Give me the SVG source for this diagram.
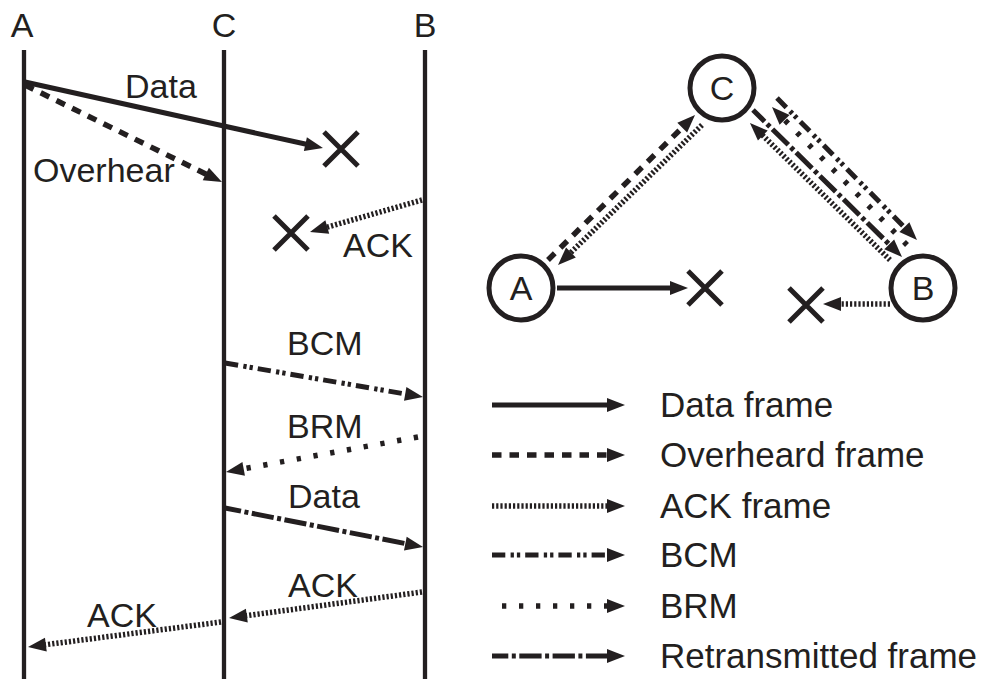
<svg xmlns="http://www.w3.org/2000/svg" width="984" height="679" viewBox="0 0 984 679">
  <style>
    text { font-family: "Liberation Sans", Arial, sans-serif; font-size: 34px; fill: #231f20; }
    .legend text { font-size: 35px; }
    .life { stroke: #231f20; stroke-width: 4.3; fill: none; }
    .f { stroke: #231f20; stroke-width: 5; fill: none; marker-end: url(#head); }
    .over { stroke-width: 5.5; stroke-dasharray: 9.5 8; }
    .ack { stroke-width: 5.5; stroke-dasharray: 2.2 2; }
    .bcm { stroke-dasharray: 13.3 5.3 3.3 3 3.3 5; }
    .brm { stroke-width: 5.5; stroke-dasharray: 4.3 12.7; }
    .retx { stroke-dasharray: 22.3 3.5 4 3.5; stroke-dashoffset: 6; }
    .lost { stroke: #231f20; stroke-width: 5; fill: none; }
    .node circle { fill: #fff; stroke: #231f20; stroke-width: 5; }
    .node text { text-anchor: middle; }
  </style>
  <defs>
    <marker id="head" markerUnits="userSpaceOnUse" markerWidth="18" markerHeight="14" refX="8" refY="7" orient="auto" overflow="visible">
      <path d="M0,0 L18,7 L0,14 z" fill="#231f20"/>
    </marker>
  </defs>
  <rect width="984" height="679" fill="#fff"/>

  <!-- timeline actors -->
  <g id="seqA">
    <text x="22" y="37" text-anchor="middle">A</text>
    <line class="life" x1="24" y1="50" x2="24" y2="679"/>
  </g>
  <g id="seqC">
    <text x="224" y="37" text-anchor="middle">C</text>
    <line class="life" x1="224" y1="50" x2="224" y2="679"/>
  </g>
  <g id="seqB">
    <text x="425" y="37" text-anchor="middle">B</text>
    <line class="life" x1="425" y1="50" x2="425" y2="679"/>
  </g>

  <!-- timeline messages -->
  <g id="seq-messages">
    <line class="f" x1="25" y1="82" x2="313.2" y2="145.8"/>
    <text x="125" y="98">Data</text>
    <line class="f over" x1="25" y1="85" x2="213" y2="177.6"/>
    <text x="33" y="182">Overhear</text>
    <line class="f ack" x1="422" y1="200" x2="319.6" y2="229.3"/>
    <text x="343" y="257">ACK</text>
    <line class="f bcm" x1="225" y1="363" x2="413.1" y2="395.3"/>
    <text x="287" y="355">BCM</text>
    <line class="f brm" x1="418" y1="437" x2="235.8" y2="470.2"/>
    <text x="287" y="438">BRM</text>
    <line class="f retx" x1="225" y1="508" x2="413.2" y2="545.1"/>
    <text x="288" y="508">Data</text>
    <line class="f ack" x1="422" y1="592" x2="238.9" y2="616.7"/>
    <text x="288" y="597">ACK</text>
    <line class="f ack" x1="221" y1="622" x2="37.9" y2="645.7"/>
    <text x="87" y="627">ACK</text>
    <!-- lost frames -->
    <path class="lost" d="M324,132 L358,166 M358,132 L324,166"/>
    <path class="lost" d="M274,216 L308,250 M308,216 L274,250"/>
  </g>

  <!-- topology connectors -->
  <g id="topo-connectors">
    <line class="f" x1="557" y1="288" x2="678" y2="288"/>
    <line class="f ack" x1="890" y1="304" x2="833" y2="304"/>
    <line class="f over" x1="548" y1="260" x2="687.9" y2="122"/>
    <line class="f ack" x1="702" y1="125" x2="565.2" y2="258"/>
    <line class="f ack" x1="890" y1="260" x2="757.1" y2="130"/>
    <line class="f retx" x1="753" y1="110" x2="894.9" y2="250"/>
    <line class="f brm" x1="907" y1="245" x2="779" y2="114.2"/>
    <line class="f bcm" x1="777" y1="98" x2="910" y2="232.9"/>
    <path class="lost" d="M688,271 L722,305 M722,271 L688,305"/>
    <path class="lost" d="M789,288 L823,322 M823,288 L789,322"/>
  </g>

  <!-- topology nodes -->
  <g id="nodeC" class="node">
    <circle cx="722" cy="88" r="32"/>
    <text x="722" y="100">C</text>
  </g>
  <g id="nodeA" class="node">
    <circle cx="521" cy="288" r="32"/>
    <text x="521" y="300">A</text>
  </g>
  <g id="nodeB" class="node">
    <circle cx="923" cy="288" r="32"/>
    <text x="923" y="300">B</text>
  </g>

  <!-- legend -->
  <g id="legend" class="legend">
    <line class="f" x1="492" y1="405" x2="615" y2="405"/>
    <text x="660" y="417">Data frame</text>
    <line class="f over" x1="492" y1="455" x2="615" y2="455"/>
    <text x="660" y="467">Overheard frame</text>
    <line class="f ack" x1="492" y1="506" x2="615" y2="506"/>
    <text x="660" y="518">ACK frame</text>
    <line class="f bcm" x1="492" y1="555" x2="615" y2="555"/>
    <text x="660" y="567">BCM</text>
    <line class="f brm" x1="502" y1="606" x2="615" y2="606"/>
    <text x="660" y="618">BRM</text>
    <line class="f retx" x1="492" y1="656" x2="615" y2="656"/>
    <text x="660" y="668">Retransmitted frame</text>
  </g>
</svg>
